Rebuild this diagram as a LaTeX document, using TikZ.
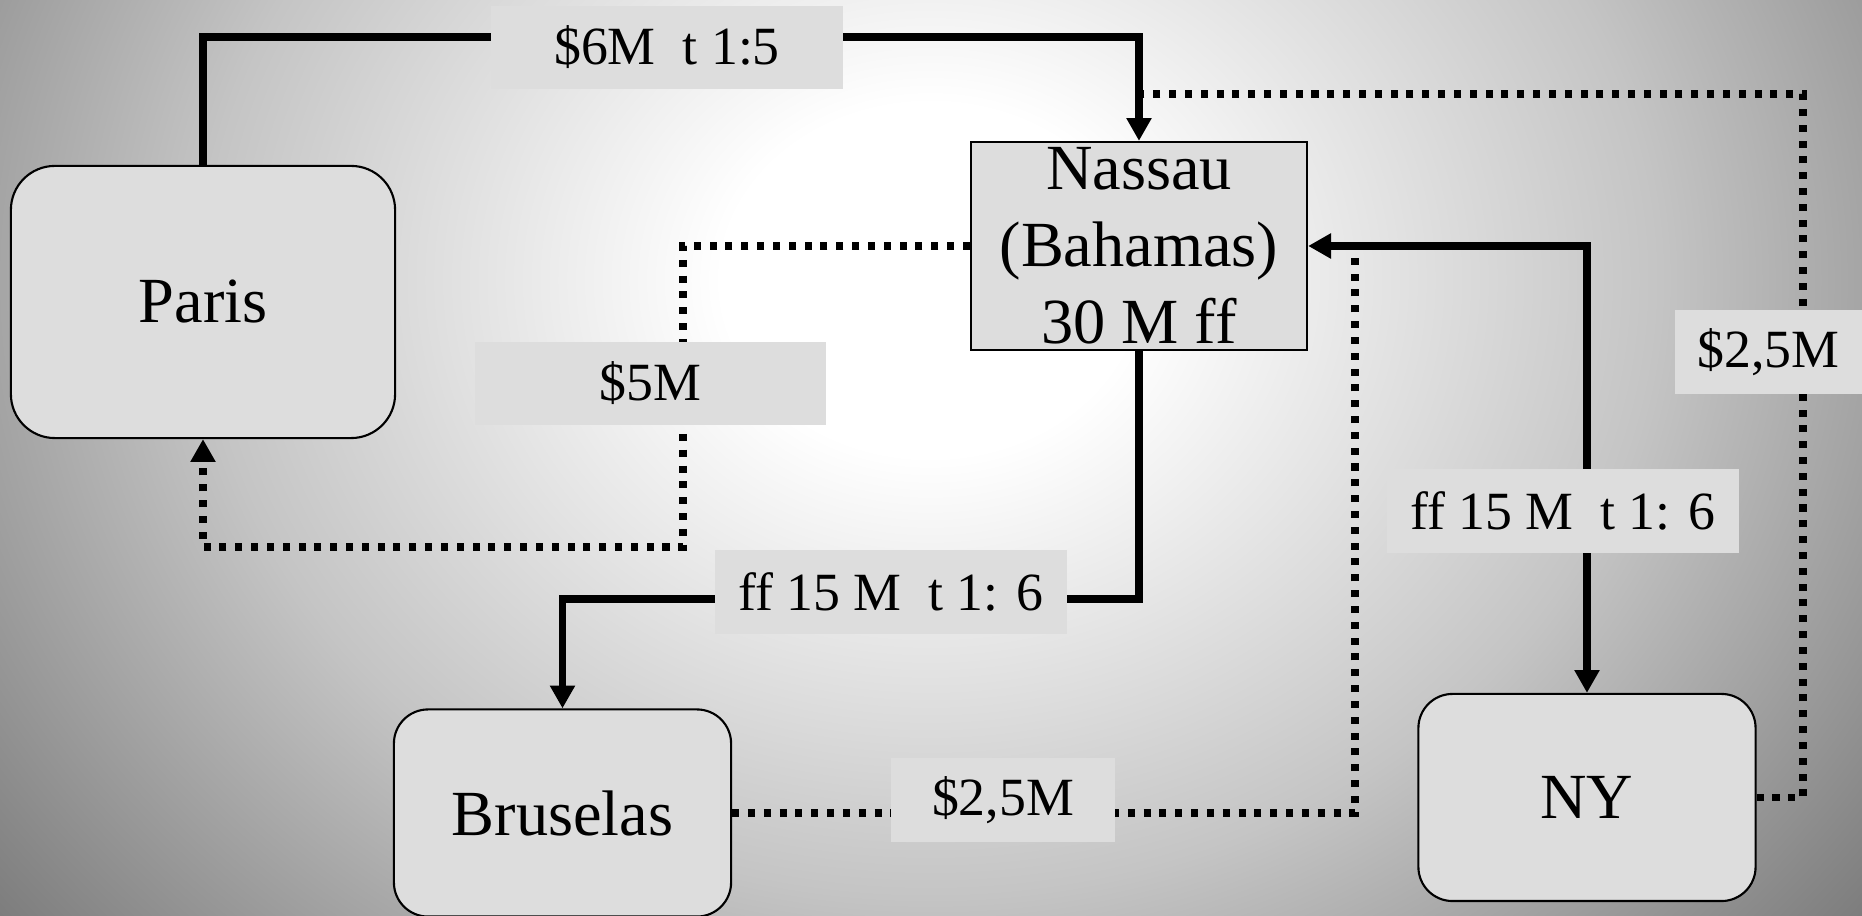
\documentclass[tikz,border=0pt]{standalone}
\usepackage{fontspec}
\setmainfont{Liberation Serif}
\usetikzlibrary{positioning}
\usetikzlibrary{arrows.meta}
\definecolor{boxColor}{HTML}{DDDDDD}
\definecolor{glowMid}{gray}{0.77}
\definecolor{glowEdge}{gray}{0.49}
\definecolor{glowCorner}{gray}{0.45}
\pgfdeclareradialshading{glow}{\pgfpointorigin}{color(0bp)=(white); color(4bp)=(white); color(14bp)=(glowMid); color(23bp)=(glowEdge); color(50bp)=(glowCorner)}

\tikzset{
  city/.style={draw, line width=0.6pt, fill=boxColor, rounded corners=9.7pt, minimum width=3.37cm, minimum height=2.07cm, inner sep=0pt, font=\fontsize{18.3}{21.9}\selectfont},
  moneyTag/.style={fill=boxColor, inner sep=0pt, minimum height=0.83cm, font=\fontsize{15.3}{18}\selectfont},
  flow/.style={line width=2pt, ->},
  dotLine/.style={line width=2pt, dash pattern=on 2pt off 2.5pt},
  dotFlow/.style={dotLine, ->},
}

\begin{document}
\begin{tikzpicture}[x=0.01cm, y=-0.01cm, >={Triangle[length=6.5pt,width=6.8pt]}]
          \useasboundingbox (0,0) rectangle (1862,916);
          \begin{scope}
            \clip (0,0) rectangle (1862,916);
            \shade[shading=glow] (-370,-820) rectangle (2230,1380);
          \end{scope}

          \node[city, rounded corners=12.5pt, minimum width=3.84cm, minimum height=2.72cm] (paris) at (203,302) {Paris};
          \node[city, sharp corners, minimum width=3.36cm, minimum height=2.08cm, align=center] (nassau) at (1139,246) {Nassau\\(Bahamas)\\30 M ff};
          \node[city] (bruselas) at (562.5,813) {Bruselas};
          \node[city] (ny) at (1587,797.5) {NY};

          \coordinate (topBend) at (1139,37);
          \coordinate (dotLeft) at (683,547);
          \coordinate (midBend) at (1139,599);
          \coordinate (bruJoin) at (1355,246);
          \coordinate (nyTurn) at (1803,94);
          \coordinate (nyJoin) at (1139,94);

          \draw[flow] (paris.north) |- (topBend) -- (nassau.north);
          \draw[dotFlow] (nassau.west) -| (dotLeft) -| (paris.south);
          \draw[flow] (nassau.south) -- (midBend) -| (bruselas.north);
          \draw[flow, <->] (nassau.east) -| (ny.north);
          \draw[dotLine] (bruselas.east) -| (bruJoin);
          \draw[dotLine] (ny.east) -| (nyTurn) -- (nyJoin);

          \node[moneyTag, minimum width=3.52cm] (sixTag) at (667,47.5) {\$6M\ \ t 1:5};
          \node[moneyTag, minimum width=3.51cm] (fiveTag) at (650.5,383.5) {\$5M};
          \node[moneyTag, minimum width=3.52cm] (ffBru) at (891,592) {ff 15 M\ \ t 1: 6};
          \node[moneyTag, minimum width=2.24cm] (bruTag) at (1003,800) {\$2,5M};
          \node[moneyTag, minimum width=1.87cm] (nyTag) at (1768.5,352) {\$2,5M};
          \node[moneyTag, minimum width=3.52cm] (ffNy) at (1563,511) {ff 15 M\ \ t 1: 6};
        \end{tikzpicture}
\end{document}
